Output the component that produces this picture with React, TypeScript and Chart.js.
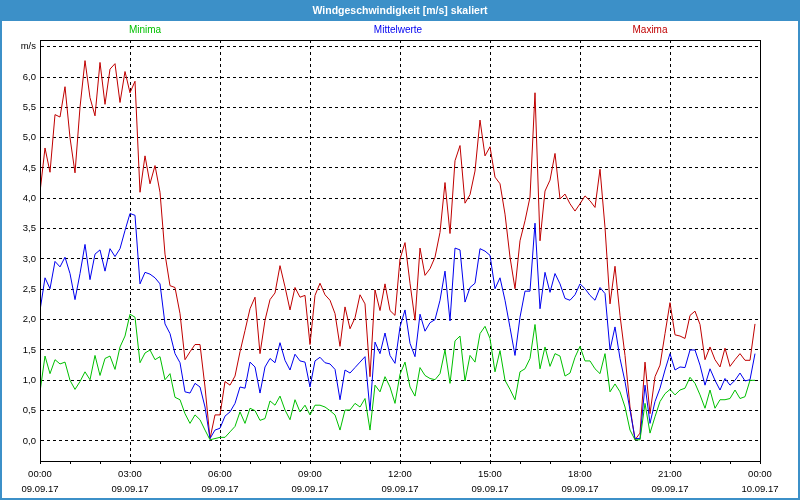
import { useEffect, useRef } from 'react';
import { Chart, registerables } from 'chart.js';

Chart.register(...registerables);

const TITLE = 'Windgeschwindigkeit [m/s] skaliert';
const SERIES_NAMES = ['Minima', 'Mittelwerte', 'Maxima'];
const SERIES_COLORS = ['#00c000', '#0000f0', '#c00000'];
const FRAME_BLUE = '#3c90c8';

const Y_TICK_VALUES = [0, 0.5, 1, 1.5, 2, 2.5, 3, 3.5, 4, 4.5, 5, 5.5, 6, 6.5];
const Y_TICK_LABELS = ['0,0', '0,5', '1,0', '1,5', '2,0', '2,5', '3,0', '3,5', '4,0', '4,5', '5,0', '5,5', '6,0', 'm/s'];
const X_TICK_HOURS = [0, 3, 6, 9, 12, 15, 18, 21, 24];
const X_TICK_TIMES = ['00:00', '03:00', '06:00', '09:00', '12:00', '15:00', '18:00', '21:00', '00:00'];
const X_TICK_DATES = ['09.09.17', '09.09.17', '09.09.17', '09.09.17', '09.09.17', '09.09.17', '09.09.17', '09.09.17', '10.09.17'];
const SAMPLE_MINUTES = 10;

const minima = [
  0.81, 1.40, 1.11, 1.34, 1.27, 1.30, 1.00, 0.85, 0.98, 1.14, 1.01, 1.41, 1.08, 1.36, 1.40, 1.18, 1.55, 1.73, 2.09, 2.04,
  1.29, 1.45, 1.50, 1.34, 1.39, 1.01, 1.11, 0.72, 0.68, 0.45, 0.29, 0.43, 0.35, 0.18, 0.02, 0.04, 0.06, 0.06,
  0.15, 0.24, 0.48, 0.29, 0.54, 0.50, 0.34, 0.37, 0.66, 0.59, 0.74, 0.51, 0.35, 0.68, 0.48, 0.59, 0.43, 0.59, 0.59, 0.56,
  0.50, 0.43, 0.18, 0.51, 0.51, 0.62, 0.56, 0.70, 0.18, 0.92, 0.81, 1.06, 0.89, 0.62,
  1.10, 1.30, 0.89, 0.74, 1.21, 1.08, 1.03, 1.01, 1.11, 1.50, 0.95, 1.65, 1.73, 0.99, 1.41, 1.30, 1.77, 1.89, 1.69, 1.14,
  1.49, 1.00, 0.85, 0.68, 1.14, 1.19, 1.36, 1.92, 1.19, 1.55, 1.23, 1.44, 1.40, 1.07, 1.12, 1.38,
  1.56, 1.32, 1.32, 1.19, 1.11, 1.44, 0.81, 0.94, 0.81, 0.56, 0.18, 0.02, 0.02, 0.62, 0.13, 0.40, 0.65, 0.78, 0.85, 0.76,
  0.84, 0.87, 1.05, 0.95, 0.76, 0.54, 0.84, 0.54, 0.68, 0.68, 0.70, 0.84, 0.70, 0.73, 1.00, 1.00,
];

const mittelwerte = [
  2.15, 2.69, 2.51, 2.96, 2.87, 3.03, 2.76, 2.33, 2.76, 3.24, 2.66, 3.08, 3.15, 2.80, 3.17, 3.04, 3.17, 3.47, 3.75, 3.72,
  2.59, 2.78, 2.75, 2.69, 2.59, 1.93, 1.77, 1.44, 1.29, 0.81, 0.79, 0.95, 0.89, 0.56, 0.04, 0.18, 0.21, 0.41,
  0.48, 0.62, 0.89, 0.87, 1.30, 1.22, 0.79, 1.22, 1.36, 1.29, 1.62, 1.33, 1.17, 1.43, 1.32, 1.30, 0.89, 1.32, 1.38, 1.29,
  1.27, 1.18, 0.68, 1.17, 1.12, 1.21, 1.30, 1.39, 0.50, 1.63, 1.44, 1.78, 1.41, 1.28,
  1.88, 2.16, 1.61, 1.39, 2.09, 1.81, 1.95, 2.00, 2.32, 2.80, 1.98, 3.18, 3.15, 2.29, 2.53, 2.60, 3.17, 3.13, 3.06, 2.51,
  2.69, 2.32, 1.87, 1.41, 2.04, 2.47, 2.47, 3.59, 2.18, 2.78, 2.45, 2.76, 2.59, 2.35, 2.32, 2.41,
  2.59, 2.51, 2.40, 2.32, 2.53, 2.43, 1.50, 1.88, 1.36, 0.98, 0.51, 0.04, 0.04, 0.92, 0.29, 0.65, 0.87, 1.17, 1.44, 1.17,
  1.22, 1.21, 1.50, 1.50, 1.25, 0.92, 1.19, 1.00, 0.84, 1.03, 0.92, 1.00, 1.12, 0.99, 1.01, 1.44,
];

const maxima = [
  4.10, 4.83, 4.43, 5.38, 5.34, 5.84, 5.00, 4.42, 5.50, 6.27, 5.66, 5.36, 6.24, 5.55, 6.13, 6.22, 5.58, 6.09, 5.74, 5.93,
  4.10, 4.70, 4.24, 4.54, 4.10, 3.08, 2.56, 2.53, 2.10, 1.34, 1.47, 1.59, 1.59, 0.89, 0.04, 0.43, 0.43, 0.98,
  0.92, 1.07, 1.47, 1.82, 2.18, 2.37, 1.44, 1.99, 2.33, 2.44, 2.89, 2.54, 2.16, 2.53, 2.37, 2.40, 1.59, 2.40, 2.60, 2.41,
  2.32, 2.10, 1.56, 2.21, 1.85, 2.03, 2.41, 2.26, 1.06, 2.49, 2.15, 2.59, 2.15, 2.07,
  3.00, 3.27, 2.60, 1.99, 3.18, 2.73, 2.84, 3.03, 3.44, 4.26, 3.42, 4.62, 4.87, 3.92, 4.06, 4.45, 5.29, 4.70, 4.85, 4.35,
  4.24, 3.74, 3.03, 2.51, 3.30, 3.63, 4.02, 5.74, 3.30, 4.12, 4.30, 4.74, 3.99, 4.07, 3.91, 3.79,
  3.91, 4.04, 3.96, 3.85, 4.48, 3.52, 2.26, 2.88, 2.07, 1.41, 0.56, 0.02, 0.13, 1.30, 0.45, 1.06, 1.25, 1.77, 2.28, 1.75,
  1.73, 1.69, 2.07, 2.14, 1.92, 1.34, 1.55, 1.34, 1.22, 1.53, 1.23, 1.34, 1.44, 1.33, 1.33, 1.93,
];

const SERIES_VALUES = [minima, mittelwerte, maxima];

const toPoints = (arr: number[]) => arr.map((y, i) => ({ x: (i * SAMPLE_MINUTES) / 60, y }));

const framePlugin = {
  id: 'frame',
  beforeDraw(chart: any) {
    const { ctx, width, height } = chart;
    ctx.save();
    ctx.fillStyle = '#ffffff';
    ctx.fillRect(0, 0, width, height);
    ctx.fillStyle = FRAME_BLUE;
    ctx.fillRect(0, 0, width, 21);
    ctx.fillRect(0, 0, 2, height);
    ctx.fillRect(width - 2, 0, 2, height);
    ctx.fillRect(0, height - 2, width, 2);
    ctx.fillStyle = '#ffffff';
    ctx.font = 'bold 10.5px "Liberation Sans", Arial, sans-serif';
    ctx.textAlign = 'center';
    ctx.textBaseline = 'middle';
    ctx.fillText(TITLE, width / 2, 11);
    ctx.font = '10px "Liberation Sans", Arial, sans-serif';
    const legendX = [145, 398, 650];
    chart.data.datasets.forEach((ds: any, i: number) => {
      ctx.fillStyle = ds.borderColor;
      ctx.fillText(ds.label, legendX[i], 30);
    });
    ctx.restore();
  },
  afterDraw(chart: any) {
    const { ctx, chartArea: a } = chart;
    ctx.save();
    ctx.strokeStyle = '#000000';
    ctx.lineWidth = 1;
    ctx.strokeRect(Math.round(a.left) + 0.5, Math.round(a.top) + 0.5, Math.round(a.right - a.left), Math.round(a.bottom - a.top));
    ctx.restore();
  },
};

export default function App() {
  const canvasRef = useRef<HTMLCanvasElement>(null);

  useEffect(() => {
    document.body.style.margin = '0';
    const canvas = canvasRef.current;
    if (!canvas) return;
    const tickFont = { family: '"Liberation Sans", Arial, sans-serif', size: 9.5, lineHeight: 1.6 };
    const chart = new Chart(canvas, {
      type: 'line',
      data: {
        datasets: SERIES_NAMES.map((name, i) => ({
          label: name,
          data: toPoints(SERIES_VALUES[i]),
          borderColor: SERIES_COLORS[i],
          backgroundColor: SERIES_COLORS[i],
          borderWidth: 1,
          pointRadius: 0,
          tension: 0,
          fill: false,
        })),
      },
      options: {
        animation: false,
        responsive: false,
        devicePixelRatio: 1,
        layout: { padding: { top: 40, left: 0, right: 40, bottom: 0 } },
        plugins: { legend: { display: false }, title: { display: false }, tooltip: { enabled: false } },
        scales: {
          x: {
            type: 'linear',
            min: 0,
            max: 24,
            afterFit: (s: any) => { s.height = 39; },
            ticks: {
              stepSize: 1,
              autoSkip: false,
              maxRotation: 0,
              padding: 3,
              color: '#000000',
              font: tickFont,
              callback: (v: any) => {
                const idx = X_TICK_HOURS.indexOf(Number(v));
                return idx >= 0 ? [X_TICK_TIMES[idx], X_TICK_DATES[idx]] : '';
              },
            },
            grid: {
              color: (c: any) => {
                const v = c.tick ? c.tick.value : -1;
                return v % 3 === 0 && v > 0 && v < 24 ? '#000000' : 'rgba(0,0,0,0)';
              },
              tickColor: '#000000',
              tickLength: 3,
              drawTicks: true,
            },
            border: { display: true, color: '#000000', width: 1, dash: [3, 3] },
          },
          y: {
            type: 'linear',
            min: -0.33,
            max: 6.61,
            afterFit: (s: any) => { s.width = 40; },
            afterBuildTicks: (s: any) => { s.ticks = Y_TICK_VALUES.map((v) => ({ value: v })); },
            ticks: {
              padding: 4,
              color: '#000000',
              font: tickFont,
              callback: (v: any) => {
                const idx = Y_TICK_VALUES.indexOf(Number(v));
                return idx >= 0 ? Y_TICK_LABELS[idx] : '';
              },
            },
            grid: { color: '#000000', drawTicks: false },
            border: { display: true, color: '#000000', width: 1, dash: [3, 3] },
          },
        },
      },
      plugins: [framePlugin],
    } as any);
    return () => chart.destroy();
  }, []);

  return (
    <div style={{ position: 'absolute', left: 0, top: 0, width: 800, height: 500 }}>
      <canvas ref={canvasRef} width={800} height={500} style={{ width: 800, height: 500, display: 'block' }} />
    </div>
  );
}
